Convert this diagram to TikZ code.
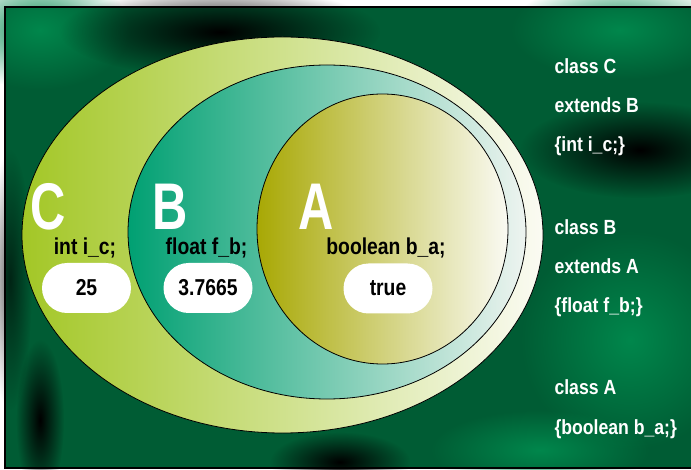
\documentclass[tikz,border=0pt]{standalone}
\usepackage{fontspec}
\setmainfont{Liberation Sans}
\newfontfamily\labelfont{Liberation Sans}[FakeStretch=0.84]
\newfontfamily\bigfont{Liberation Sans}[FakeStretch=0.74]
\newfontfamily\sidefont{Liberation Sans}[FakeStretch=0.86]
\usetikzlibrary{shapes.misc, fadings}

\definecolor{bggreen}{HTML}{005C34}
\definecolor{bglight}{HTML}{00874C}
\definecolor{cleft}{HTML}{A3C726}
\definecolor{cmid}{HTML}{D3E196}
\definecolor{cright}{HTML}{FBFBF3}
\definecolor{bleft}{HTML}{00A072}
\definecolor{bmid}{HTML}{7CC5A5}
\definecolor{bright}{HTML}{EEF4F0}
\definecolor{aleft}{HTML}{A8A804}
\definecolor{amid}{HTML}{D0D08E}
\definecolor{aright}{HTML}{FAFAF3}

\tikzfading[name=softblob, inner color=transparent!0, outer color=transparent!100]

\begin{document}
\begin{tikzpicture}[
    x=1pt, y=-1pt,
    shadow/.style={black, path fading=softblob},
    glow/.style={bglight, path fading=softblob},
    classring/.style={draw=black, line width=0.8pt},
    varlabel/.style={anchor=base, font=\labelfont\bfseries\fontsize{23}{26}\selectfont},
    valbox/.style={rounded rectangle, fill=white, minimum width=89pt, minimum height=50pt, inner sep=0pt, font=\labelfont\bfseries\fontsize{23}{26}\selectfont},
    bigletter/.style={anchor=base, text=white, font=\bigfont\bfseries\fontsize{66}{70}\selectfont},
    classtext/.style={anchor=base west, text=white, font=\sidefont\bfseries\fontsize{20.5}{24}\selectfont}
]
\useasboundingbox (0,0) rectangle (691,470);

% Background
\fill[bggreen] (5,7) rectangle (693,468);
\fill[glow] (40,30) ellipse (90 and 60);
\fill[glow] (620,30) ellipse (110 and 50);
\fill[glow] (630,340) ellipse (110 and 110);
\fill[glow] (540,450) ellipse (110 and 40);
\fill[shadow] (220,32) ellipse (160 and 45);
\fill[shadow] (640,150) ellipse (120 and 48);
\fill[shadow] (40,420) ellipse (24 and 80);
\fill[shadow] (340,462) ellipse (70 and 30);
\fill[shadow, opacity=0.6] (10,280) ellipse (22 and 130);
\draw[black, line width=2pt] (5,7) rectangle (693,468);

% Class ellipses
\shade[left color=cleft, middle color=cmid, right color=cright] (282.5,235) ellipse (260.5 and 198);
\draw[classring] (282.5,235) ellipse (260.5 and 198);
\shade[left color=bleft, middle color=bmid, right color=bright] (327,232) ellipse (199 and 167);
\draw[classring] (327,232) ellipse (199 and 167);
\shade[left color=aleft, middle color=amid, right color=aright] (382.5,229) ellipse (125.5 and 135);
\draw[classring] (382.5,229) ellipse (125.5 and 135);

% Letters
\node[bigletter] (letC) at (48,230) {C};
\node[bigletter] (letB) at (170,230) {B};
\node[bigletter] (letA) at (316.5,230) {A};

% Fields
\node[varlabel] (varC) at (85,255) {int i\_c;};
\node[varlabel] (varB) at (206.5,255) {float f\_b;};
\node[varlabel] (varA) at (386,255) {boolean b\_a;};

% Values
\node[valbox] (valC) at (86.5,288) {25};
\node[valbox] (valB) at (208,288) {3.7665};
\node[valbox] (valA) at (388,288.5) {true};

% Declarations
\node[classtext] (declC1) at (551,74) {class C};
\node[classtext] (declC2) at (551,113) {extends B};
\node[classtext] (declC3) at (551,152) {\{int i\_c;\}};
\node[classtext] (declB1) at (551,235) {class B};
\node[classtext] (declB2) at (551,274) {extends A};
\node[classtext] (declB3) at (551,313) {\{float f\_b;\}};
\node[classtext] (declA1) at (551,395) {class A};
\node[classtext] (declA2) at (551,434) {\{boolean b\_a;\}};

\end{tikzpicture}
\end{document}
